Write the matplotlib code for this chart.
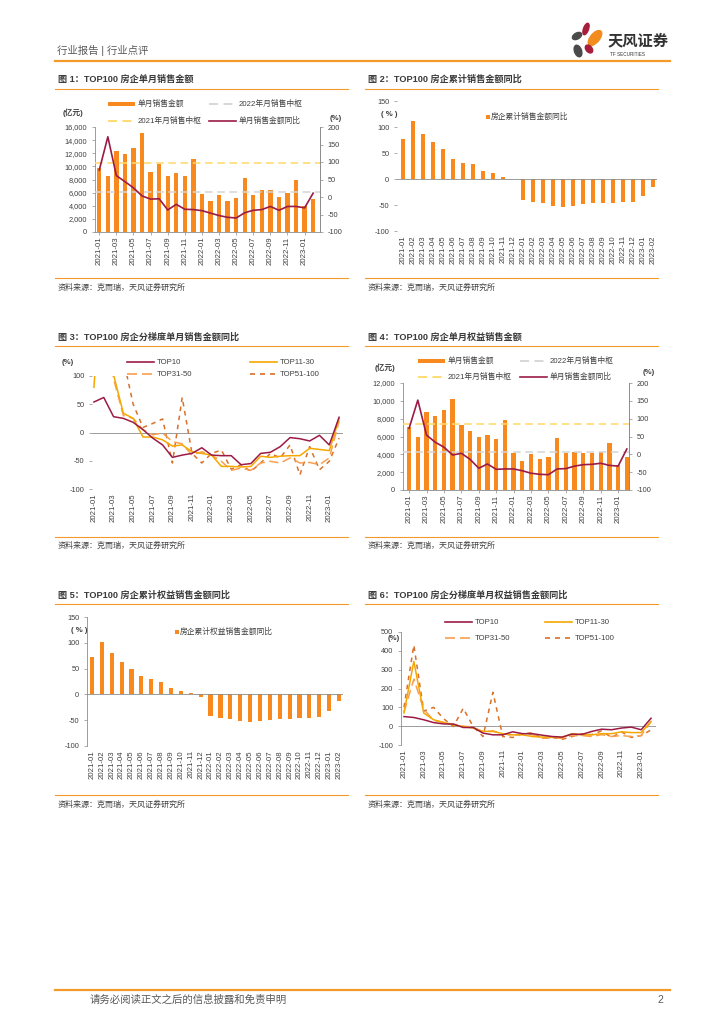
import matplotlib
matplotlib.use('Agg')
import matplotlib.pyplot as plt
from matplotlib.lines import Line2D
from matplotlib.patches import Rectangle, Ellipse
from matplotlib.ticker import FuncFormatter
import numpy as np

plt.rcParams['font.family'] = ['Liberation Sans', 'Noto Sans CJK SC', 'DejaVu Sans']
plt.rcParams['axes.unicode_minus'] = False

# ---------------- data ----------------
months = ['2021-01', '2021-02', '2021-03', '2021-04', '2021-05', '2021-06', '2021-07', '2021-08',
          '2021-09', '2021-10', '2021-11', '2021-12', '2022-01', '2022-02', '2022-03', '2022-04',
          '2022-05', '2022-06', '2022-07', '2022-08', '2022-09', '2022-10', '2022-11', '2022-12',
          '2023-01', '2023-02']

# Fig 1
c1_sales = [9800, 8500, 12300, 11900, 12800, 15100, 9200, 10300, 8500, 9000, 8500, 11100, 5800,
            4700, 5700, 4800, 5200, 8300, 5700, 6400, 6400, 5400, 5900, 7900, 3900, 5100]
c1_yoy = [77, 172, 61, 44, 26, 3, -6, -5, -37, -21, -35, -36, -39, -46, -53, -58, -60, -45, -38,
          -36, -27, -38, -27, -27, -31, 11]
c1_med2021 = 10550
c1_med2022 = 6050

# Fig 2
c2_cum = [77, 111, 87, 72, 58, 39, 31, 28, 16, 12, 4.5, -0.5, -40, -44, -47, -51, -53, -51, -49,
          -47, -46, -46, -45, -44, -33, -15]

# Fig 3
c3_top10 = [54, 62, 28, 25, 18, 5, -10, -22, -44, -40, -37, -27, -40, -41, -41, -57, -55, -37,
            -35, -25, -9, -11, -15, -5, -22, 27]
c3_top11_30 = [80, 340, 102, 34, 25, -8, -8, -13, -24, -22, -34, -37, -40, -60, -60, -61, -60,
               -42, -44, -42, -41, -41, -28, -30, -32, 24]
c3_top31_50 = [120, 250, 95, 30, 25, 5, -4, -1, -16, -20, -40, -34, -40, -51, -67, -63, -67, -54,
               -51, -54, -45, -54, -53, -57, -45, 20]
c3_top51_100 = [130, 430, 180, 130, 50, 9, 16, 24, -54, 62, -37, -54, -37, -31, -65, -57, -69,
                -54, -37, -45, -22, -75, -25, -66, -51, -10]

# Fig 4
c4_sales = [7100, 6000, 8800, 8300, 9000, 10200, 7300, 6600, 6000, 6200, 5700, 7900, 4100, 3200,
            4000, 3500, 3700, 5800, 4200, 4300, 4200, 4200, 4300, 5300, 2800, 3700]
c4_yoy = [73, 152, 54, 34, 20, -2, 3, -14, -39, -27, -42, -41, -41, -46, -53, -56, -57, -41, -40,
          -33, -29, -28, -25, -31, -33, 15]
c4_med2021 = 7400
c4_med2022 = 4250

# Fig 5
c5_cum = [72, 102, 80, 63, 50, 35, 30, 24, 12, 6.5, 2.6, -4.5, -41, -45, -47, -51, -54, -51, -50,
          -48, -47, -45, -45, -43, -32, -12]

# Fig 6
c6_top10 = [51, 46, 34, 19, 12, 11, -7, -7, -37, -46, -46, -30, -40, -40, -48, -55, -58, -42, -44,
            -28, -16, -19, -10, -5, -19, 42]
c6_top11_30 = [70, 344, 70, 34, 20, 7, -2, -10, -28, -28, -40, -46, -46, -55, -58, -58, -60, -40,
               -46, -46, -40, -40, -30, -34, -34, 25]
c6_top31_50 = [75, 250, 90, 30, 20, 10, 0, -5, -30, -25, -40, -50, -40, -45, -65, -60, -65, -50,
               -50, -55, -45, -55, -50, -55, -50, 25]
c6_top51_100 = [100, 430, 80, 100, 40, -2, 95, -2, -55, 180, -55, -60, -40, -35, -65, -60, -70,
                -55, -40, -45, -25, -60, -30, -60, -50, -20]

titles = ['图 1：TOP100 房企单月销售金额', '图 2：TOP100 房企累计销售金额同比',
          '图 3：TOP100 房企分梯度单月销售金额同比', '图 4：TOP100 房企单月权益销售金额',
          '图 5：TOP100 房企累计权益销售金额同比', '图 6：TOP100 房企分梯度单月权益销售金额同比']
source = '资料来源：克而瑞，天风证券研究所'

# ---------------- styles ----------------
ORANGE = '#F7891F'
LINE_OR = '#F39A2B'
RED = '#9B1B45'
YEL = '#FFD966'
GRAY = '#D4D4D4'
C11 = '#F5A700'
C31 = '#F9A050'
C51 = '#D9712A'
TXT = '#404040'
AX = '#8C8C8C'

W, H = 724, 1024
fig = plt.figure(figsize=(7.24, 10.24), dpi=100)
fig.patch.set_facecolor('white')


def fx(px):
    return px / W


def fy(py):
    return 1 - py / H


def add_ax(x0, y0, x1, y1):
    return fig.add_axes([fx(x0), fy(y1), (x1 - x0) / W, (y1 - y0) / H])


def ftext(x, y, s, **kw):
    kw.setdefault('va', 'center')
    kw.setdefault('color', TXT)
    fig.text(fx(x), fy(y), s, **kw)


def fline(x0, y0, x1, y1, **kw):
    fig.add_artist(Line2D([fx(x0), fx(x1)], [fy(y0), fy(y1)], transform=fig.transFigure, **kw))


def frect(x0, y0, x1, y1, **kw):
    fig.add_artist(Rectangle((fx(x0), fy(y1)), (x1 - x0) / W, (y1 - y0) / H,
                             transform=fig.transFigure, **kw))


x = np.arange(len(months))
TICK_FS = 5.3
LEG_FS = 5.6

# ---------------- page header / footer ----------------
ftext(57, 50, '行业报告 | 行业点评', fontsize=7.5, color='#595959')
fline(55, 61, 670, 61, color=LINE_OR, lw=1.6)
ftext(608, 41, '天风证券', fontsize=11, fontweight='bold', color='#333333')
ftext(610, 54, 'TF SECURITIES', fontsize=3.3, color='#333333')
lg = add_ax(565, 18, 605, 62)
lg.set_xlim(565, 605)
lg.set_ylim(62, 18)
lg.axis('off')
for (cx, cy, w, h, a, c) in [(586, 29, 5, 12, 20, '#A61E3C'), (577, 36, 10, 6, -30, '#4A4A4A'),
                             (595, 38, 9, 18, 40, '#F28C1E'), (578, 51, 7, 12, -20, '#4A4A4A'),
                             (589, 49, 6, 9, -40, '#A61E3C')]:
    lg.add_patch(Ellipse((cx, cy), w, h, angle=a, color=c))

fline(55, 990, 670, 990, color=LINE_OR, lw=1.6)
ftext(90, 1000, '请务必阅读正文之后的信息披露和免责申明', fontsize=7.5, color='#595959')
ftext(663, 1000, '2', fontsize=7.5, color='#595959', ha='right')

# panel frames: titles, underline, source
panels = [(55, 348, 79, 89, 278, 288), (365, 658, 79, 89, 278, 288),
          (55, 348, 337, 346, 537, 546), (365, 658, 337, 346, 537, 546),
          (55, 348, 595, 604, 795, 805), (365, 658, 595, 604, 795, 805)]
for t, (x0, x1, ty, ly, sy, sty) in zip(titles, panels):
    ftext(x0 + 3, ty, t, fontsize=6.6, fontweight='bold', color='#3A3A3A')
    fline(x0, ly, x1, ly, color=LINE_OR, lw=0.8)
    fline(x0, sy, x1, sy, color=LINE_OR, lw=0.8)
    ftext(x0 + 3, sty, source, fontsize=5.8, color='#404040')


def style_ticks(ax):
    ax.tick_params(axis='both', labelsize=TICK_FS, colors=TXT, length=2, width=0.5)
    ax.tick_params(axis='both', color=AX)


def xlabels(ax, step, pad=1.5):
    idx = list(range(0, len(months), step))
    ax.set_xticks(idx)
    ax.set_xticklabels([months[i] for i in idx], rotation=90, fontsize=TICK_FS + 0.3, color=TXT)
    ax.tick_params(axis='x', pad=pad)


thousands = FuncFormatter(lambda v, p: f'{v:,.0f}')


def sales_chart(box, sales, yoy, med21, med22, ymax, ystep, xlim, bw):
    ax = add_ax(*box)
    ax.bar(x, sales, width=bw, color=ORANGE, zorder=2)
    ax.axhline(med22, color=GRAY, lw=1.1, dashes=(5, 3), zorder=3)
    ax.axhline(med21, color=YEL, lw=1.1, dashes=(5, 3), zorder=3)
    ax.set_ylim(0, ymax)
    ax.set_yticks(np.arange(0, ymax + 1, ystep))
    ax.yaxis.set_major_formatter(thousands)
    ax.set_xlim(*xlim)
    for s in ['top']:
        ax.spines[s].set_visible(False)
    for s in ['left', 'bottom', 'right']:
        ax.spines[s].set_color(AX)
        ax.spines[s].set_linewidth(0.6)
    style_ticks(ax)
    xlabels(ax, 2)
    ax2 = ax.twinx()
    ax2.plot(x, yoy, color=RED, lw=1.2, zorder=5)
    ax2.set_ylim(-100, 200)
    ax2.set_yticks(np.arange(-100, 201, 50))
    ax2.spines['top'].set_visible(False)
    ax2.spines['left'].set_visible(False)
    ax2.spines['bottom'].set_visible(False)
    ax2.spines['right'].set_color(AX)
    ax2.spines['right'].set_linewidth(0.6)
    style_ticks(ax2)
    return ax


def sales_legend(x0, x1, y1, y2, unit_x, unit_y, pct_x, pct_y):
    frect(x0, y1 - 2.2, x0 + 27, y1 + 2.2, color=ORANGE, lw=0)
    ftext(x0 + 30, y1, '单月销售金额', fontsize=LEG_FS)
    fline(x1, y1, x1 + 27, y1, color=GRAY, lw=1.3, dashes=(5, 3))
    ftext(x1 + 30, y1, '2022年月销售中枢', fontsize=LEG_FS)
    fline(x0, y2, x0 + 27, y2, color=YEL, lw=1.3, dashes=(5, 3))
    ftext(x0 + 30, y2, '2021年月销售中枢', fontsize=LEG_FS)
    fline(x1, y2, x1 + 27, y2, color=RED, lw=1.2)
    ftext(x1 + 30, y2, '单月销售金额同比', fontsize=LEG_FS)
    ftext(unit_x, unit_y, '(亿元)', fontsize=LEG_FS, fontweight='bold')
    ftext(pct_x, pct_y, '(%)', fontsize=LEG_FS, fontweight='bold')


def cum_chart(box, vals, xlim, left_spine):
    ax = add_ax(*box)
    ax.bar(x, vals, width=0.42, color=ORANGE, zorder=2)
    ax.axhline(0, color=AX, lw=0.6, zorder=3)
    ax.set_ylim(-100, 150)
    ax.set_yticks(np.arange(-100, 151, 50))
    ax.set_xlim(*xlim)
    for s in ['top', 'right', 'bottom']:
        ax.spines[s].set_visible(False)
    ax.spines['left'].set_visible(left_spine)
    ax.spines['left'].set_color(AX)
    ax.spines['left'].set_linewidth(0.6)
    style_ticks(ax)
    xlabels(ax, 1, pad=3)
    ax.tick_params(axis='x', length=0)
    return ax


def tier_chart(box, series, ylim, ystep, xlim, left_spine):
    ax = add_ax(*box)
    t10, t11, t31, t51 = series
    ax.axhline(0, color=AX, lw=0.6, zorder=1)
    ax.plot(x, t51, color=C51, lw=1.1, dashes=(3, 3), zorder=2)
    ax.plot(x, t31, color=C31, lw=1.1, dashes=(6, 3), zorder=3)
    ax.plot(x, t11, color=C11, lw=1.1, zorder=4)
    ax.plot(x, t10, color=RED, lw=1.1, zorder=5)
    ax.set_ylim(*ylim)
    ax.set_yticks(np.arange(ylim[0], ylim[1] + 1, ystep))
    ax.set_xlim(*xlim)
    for s in ['top', 'right', 'bottom']:
        ax.spines[s].set_visible(False)
    ax.spines['left'].set_visible(left_spine)
    ax.spines['left'].set_color(AX)
    ax.spines['left'].set_linewidth(0.6)
    style_ticks(ax)
    xlabels(ax, 2, pad=3)
    ax.tick_params(axis='x', length=0)
    return ax


def tier_legend(xa, xb, y1, y2):
    fline(xa, y1, xa + 27, y1, color=RED, lw=1.2)
    ftext(xa + 30, y1, 'TOP10', fontsize=LEG_FS)
    fline(xb, y1, xb + 27, y1, color=C11, lw=1.2)
    ftext(xb + 30, y1, 'TOP11-30', fontsize=LEG_FS)
    fline(xa, y2, xa + 27, y2, color=C31, lw=1.2, dashes=(6, 3))
    ftext(xa + 30, y2, 'TOP31-50', fontsize=LEG_FS)
    fline(xb, y2, xb + 27, y2, color=C51, lw=1.2, dashes=(3, 3))
    ftext(xb + 30, y2, 'TOP51-100', fontsize=LEG_FS)


# ---------------- Fig 1 ----------------
sales_chart((95, 127, 320, 232), c1_sales, c1_yoy, c1_med2021, c1_med2022, 16000, 2000,
            (-0.5, 25.8), 0.5)
sales_legend(108, 209, 104, 121, 63, 113, 330, 119)

# ---------------- Fig 2 ----------------
cum_chart((397, 101, 657, 231), c2_cum, (-0.6, 25.4), False)
frect(486, 115, 490, 119, color=ORANGE, lw=0)
ftext(491, 117, '房企累计销售金额同比', fontsize=LEG_FS)
ftext(381, 114, '( % )', fontsize=LEG_FS, fontweight='bold')

# ---------------- Fig 3 ----------------
tier_chart((92, 376, 343, 489), (c3_top10, c3_top11_30, c3_top31_50, c3_top51_100),
           (-100, 100), 50, (-0.2, 25.4), False)
tier_legend(127, 250, 362, 374)
ftext(62, 362, '(%)', fontsize=LEG_FS, fontweight='bold')

# ---------------- Fig 4 ----------------
sales_chart((403, 383, 629, 490), c4_sales, c4_yoy, c4_med2021, c4_med2022, 12000, 2000,
            (-0.7, 25.25), 0.5)
sales_legend(418, 520, 361, 377, 375, 368, 643, 373)

# ---------------- Fig 5 ----------------
cum_chart((87, 617, 343, 746), c5_cum, (-0.5, 25.4), True)
frect(175, 630, 179, 634, color=ORANGE, lw=0)
ftext(180, 632, '房企累计权益销售金额同比', fontsize=LEG_FS)
ftext(71, 630, '( % )', fontsize=LEG_FS, fontweight='bold')

# ---------------- Fig 6 ----------------
tier_chart((401, 632, 656, 745), (c6_top10, c6_top11_30, c6_top31_50, c6_top51_100),
           (-100, 500), 100, (-0.3, 25.5), True)
tier_legend(445, 545, 622, 638)
ftext(388, 639, '(%)', fontsize=LEG_FS, fontweight='bold')

fig.savefig('out.png', dpi=100, facecolor='white')
